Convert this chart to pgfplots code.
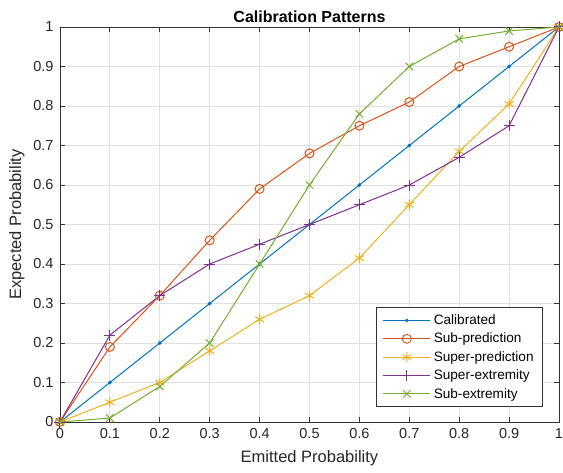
\documentclass[border=0pt]{standalone}
\usepackage{pgfplots}
\pgfplotsset{compat=1.18}
\usetikzlibrary{calc}
\usepackage{fontspec}
\setmainfont{Liberation Sans}
\definecolor{c1}{rgb}{0,0.447,0.741}
\definecolor{c2}{rgb}{0.85,0.325,0.098}
\definecolor{c3}{rgb}{0.929,0.694,0.125}
\definecolor{c4}{rgb}{0.494,0.184,0.556}
\definecolor{c5}{rgb}{0.466,0.674,0.188}
\begin{document}
\begin{tikzpicture}
\begin{axis}[
  name=ax,
  scale only axis,
  width=499pt, height=395pt,
  xmin=0, xmax=1, ymin=0, ymax=1,
  xtick={0,0.1,...,1}, ytick={0,0.1,...,1},
  xticklabels={0,0.1,0.2,0.3,0.4,0.5,0.6,0.7,0.8,0.9,1},
  yticklabels={0,0.1,0.2,0.3,0.4,0.5,0.6,0.7,0.8,0.9,1},
  tick align=inside, tick pos=both,
  major tick length=5pt,
  grid=major,
  grid style={black!12, line width=0.8pt},
  axis line style={black!80, line width=0.9pt},
  tick style={black!80, line width=0.9pt},
  /pgf/number format/assume math mode=true,
  ticklabel style={font=\fontsize{14.5}{16}\selectfont, color=black!85},
  xticklabel style={yshift=-3pt},
  yticklabel style={xshift=-3pt},
  title={\textbf{Calibration Patterns}},
  title style={font=\fontsize{16}{18}\selectfont, yshift=-5pt},
  xlabel={Emitted Probability},
  ylabel={Expected Probability},
  label style={font=\fontsize{16.5}{18}\selectfont, color=black!85},
  xlabel style={yshift=-5pt},
  ylabel style={yshift=2pt},
  legend style={at={(0.968,0.038)}, anchor=south east, font=\fontsize{13.6}{15}\selectfont,
    draw=black!80, line width=0.9pt, row sep=3pt, inner xsep=6pt, inner ysep=5pt,
    nodes={inner xsep=3pt}},
  legend cell align=left,
  legend image post style={line width=0.9pt},
  legend image code/.code={\draw[mark repeat=2,mark phase=2] plot coordinates {(0pt,0pt) (23.5pt,0pt) (47pt,0pt)};},
  every axis plot/.append style={line width=1pt},
]
\addplot[color=c1, mark=*, mark size=1.3pt] coordinates {(0,0)(0.1,0.1)(0.2,0.2)(0.3,0.3)(0.4,0.4)(0.5,0.5)(0.6,0.6)(0.7,0.7)(0.8,0.8)(0.9,0.9)(1,1)};
\addlegendentry{Calibrated}
\addplot[color=c2, mark=o, mark size=4.5pt] coordinates {(0,0)(0.1,0.19)(0.2,0.32)(0.3,0.46)(0.4,0.59)(0.5,0.68)(0.6,0.75)(0.7,0.81)(0.8,0.90)(0.9,0.95)(1,1)};
\addlegendentry{Sub-prediction}
\addplot[color=c3, mark=asterisk, mark size=5.2pt] coordinates {(0,0)(0.1,0.05)(0.2,0.10)(0.3,0.18)(0.4,0.26)(0.5,0.32)(0.6,0.415)(0.7,0.55)(0.8,0.685)(0.9,0.805)(1,1)};
\addlegendentry{Super-prediction\hspace{13pt}}
\addplot[color=c4, mark=+, mark size=5.5pt] coordinates {(0,0)(0.1,0.22)(0.2,0.32)(0.3,0.40)(0.4,0.45)(0.5,0.50)(0.6,0.55)(0.7,0.60)(0.8,0.67)(0.9,0.75)(1,1)};
\addlegendentry{Super-extremity}
\addplot[color=c5, mark=x, mark size=5.2pt] coordinates {(0,0)(0.1,0.01)(0.2,0.09)(0.3,0.20)(0.4,0.40)(0.5,0.60)(0.6,0.78)(0.7,0.90)(0.8,0.97)(0.9,0.99)(1,1)};
\addlegendentry{Sub-extremity}
\end{axis}
\pgfresetboundingbox
\path ($(ax.south west)+(-60pt,-50pt)$) rectangle ($(ax.north east)+(4pt,27pt)$);
\end{tikzpicture}
\end{document}
